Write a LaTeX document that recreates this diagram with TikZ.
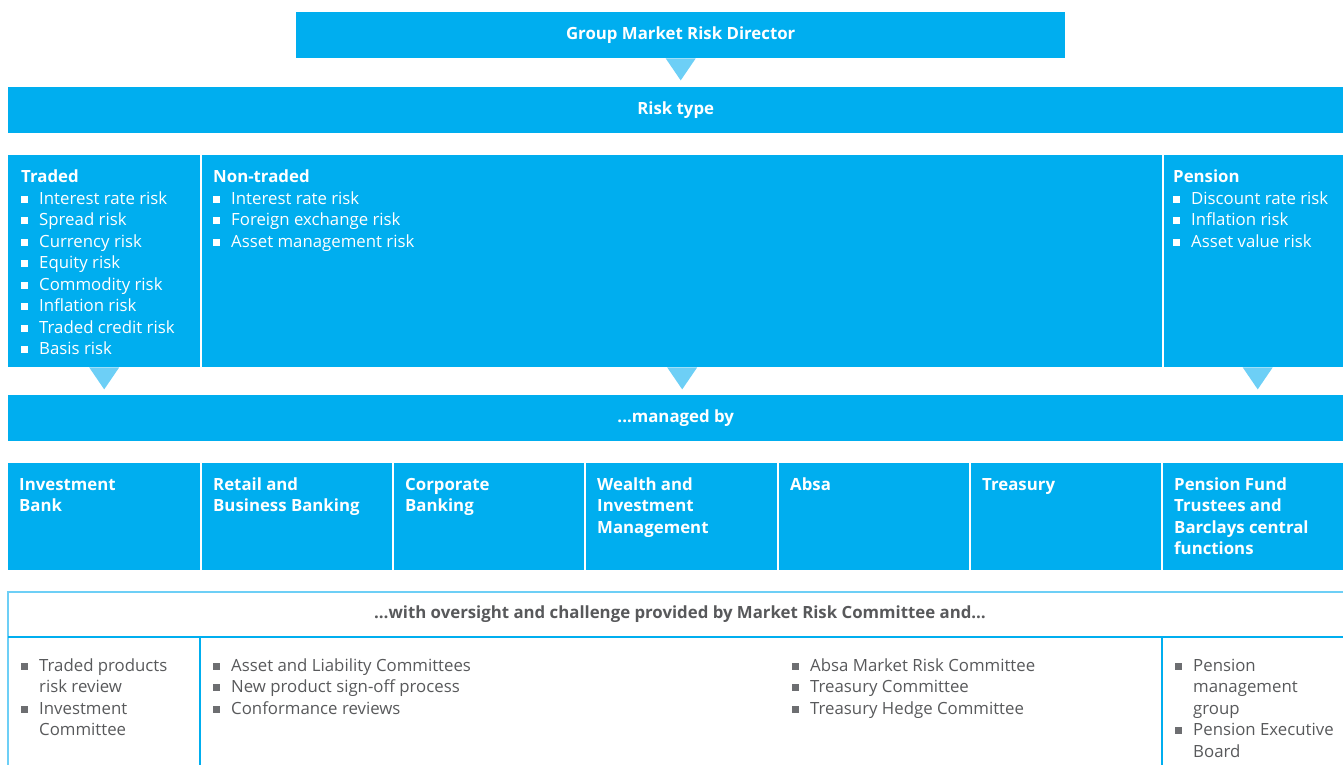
\documentclass[tikz,border=0pt]{standalone}
\usepackage{fontspec}
\setmainfont{Open Sans}
\usetikzlibrary{positioning}

\definecolor{mrblue}{HTML}{00AEEF}
\definecolor{mrlight}{HTML}{6DCFF6}
\definecolor{mrgrey}{HTML}{58595B}
\definecolor{mrsq}{HTML}{6D6E71}

% bullet square and list of rows
\newcommand{\sq}{\makebox[18pt][l]{\rule[1.5pt]{7pt}{7pt}}}
\newcommand{\lst}[1]{\begin{tabular}{@{}l@{}l@{}}#1\end{tabular}}
\newcommand{\hd}[1]{\multicolumn{2}{@{}l@{}}{\bfseries #1}}

\tikzset{
  bar/.style={fill=mrblue, text=white, inner sep=0pt, anchor=north west, font=\fontsize{16.8}{21.5}\selectfont\bfseries},
  txt/.style={text=white, inner sep=0pt, anchor=north west, font=\fontsize{16.8}{21.5}\selectfont},
  gtxt/.style={txt, text=mrgrey},
  tri/.style={fill=mrlight},
  rule/.style={draw=mrblue, line width=1.2pt}
}

\begin{document}
\begin{tikzpicture}[x=1pt, y=-1pt]

    \useasboundingbox (0,0) rectangle (1343,765);

    % Director
    \node[bar, minimum width=769pt, minimum height=46pt] (director) at (296,12) {Group Market Risk Director};
    \fill[tri] ([xshift=-15pt]director.south) -- ([xshift=15pt]director.south) -- ([yshift=-22pt]director.south) -- cycle;

    % Risk type
    \node[bar, minimum width=1335pt, minimum height=46pt] (risktype) at (8,87) {Risk type};

    % Risk columns
    \node[bar, minimum width=192pt, minimum height=212pt] (traded) at (8,155) {};
    \node[bar, minimum width=960pt, minimum height=212pt] (nontraded) at (202,155) {};
    \node[bar, minimum width=179pt, minimum height=212pt] (pension) at (1164,155) {};

    \node[txt] (tradedtxt) at (21,167.5) {\lst{\hd{Traded}\\
      \sq&Interest rate risk\\ \sq&Spread risk\\ \sq&Currency risk\\ \sq&Equity risk\\
      \sq&Commodity risk\\ \sq&Inflation risk\\ \sq&Traded credit risk\\ \sq&Basis risk}};
    \node[txt] (nontradedtxt) at (213,167.5) {\lst{\hd{Non-traded}\\
      \sq&Interest rate risk\\ \sq&Foreign exchange risk\\ \sq&Asset management risk}};
    \node[txt] (pensiontxt) at (1173,167.5) {\lst{\hd{Pension}\\
      \sq&Discount rate risk\\ \sq&Inflation risk\\ \sq&Asset value risk}};

    \fill[tri] ([xshift=-15pt]traded.south) -- ([xshift=15pt]traded.south) -- ([yshift=-22pt]traded.south) -- cycle;
    \fill[tri] ([xshift=-15pt]nontraded.south) -- ([xshift=15pt]nontraded.south) -- ([yshift=-22pt]nontraded.south) -- cycle;
    \fill[tri] ([xshift=-11pt]pension.south) -- ([xshift=19pt]pension.south) -- ([xshift=4pt,yshift=-22pt]pension.south) -- cycle;

    % managed by
    \node[bar, minimum width=1335pt, minimum height=46pt] (managed) at (8,395) {...managed by};

    % Business units
    \foreach \x/\w/\n/\t in {8/192/ib/{Investment\\Bank}, 202/190/rbb/{Retail and\\Business Banking},
        394/190/cb/{Corporate\\Banking}, 586/191/wim/{Wealth and\\Investment\\Management},
        779/190/absa/{Absa}, 971/190/treasury/{Treasury},
        1163/180/trustees/{Pension Fund\\Trustees and\\Barclays central\\functions}} {
      \node[bar, minimum width=\w pt, minimum height=107pt] (\n) at (\x,463) {};
      \node[txt, font=\fontsize{16.8}{21.5}\selectfont\bfseries] (\n txt) at ([xshift=11pt,yshift=-12pt]\n.north west) {\lst{\t}};
    }

    % Oversight
    \draw[rule, draw=mrlight] (8,765) -- (8,592) -- (1343,592);
    \draw[rule] (8,637) -- (1343,637);
    \draw[rule] (200,637) -- (200,765);
    \draw[rule] (1162,637) -- (1162,765);
    \node[text=mrgrey, font=\fontsize{16.8}{21.5}\selectfont\bfseries] (oversight) at (680,614) {…with oversight and challenge provided by Market Risk Committee and…};

    \node[gtxt] (ibcom) at (21,656) {\lst{
      \color{mrsq}\sq&Traded products\\ &risk review\\ \color{mrsq}\sq&Investment\\ &Committee}};
    \node[gtxt] (rbbcom) at (213,656) {\lst{
      \color{mrsq}\sq&Asset and Liability Committees\\ \color{mrsq}\sq&New product sign-off process\\ \color{mrsq}\sq&Conformance reviews}};
    \node[gtxt] (absacom) at (792,656) {\lst{
      \color{mrsq}\sq&Absa Market Risk Committee\\ \color{mrsq}\sq&Treasury Committee\\ \color{mrsq}\sq&Treasury Hedge Committee}};
    \node[gtxt] (pensioncom) at (1175,656) {\lst{
      \color{mrsq}\sq&Pension\\ &management\\ &group\\ \color{mrsq}\sq&Pension Executive\\ &Board}};

\end{tikzpicture}
\end{document}
